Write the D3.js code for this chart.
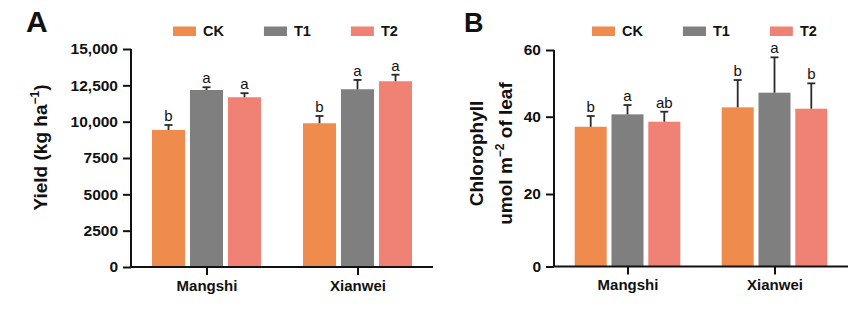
<!DOCTYPE html>
<html>
<head>
<meta charset="utf-8">
<script src="https://cdn.jsdelivr.net/npm/d3@7"></script>
<style>
  html, body { margin: 0; padding: 0; background: #fff; }
  svg { display: block; }
  text { font-family: "Liberation Sans", Arial, Helvetica, sans-serif; fill: #111; }
</style>
</head>
<body>
<svg id="chart" width="866" height="330"></svg>
<script>
// ---------- data ----------
const groups = ["Mangshi", "Xianwei"];
const series = ["CK", "T1", "T2"];
const colors = ["#EE8B4D", "#7F7F7F", "#EF8275"];

// Panel A: yield (kg ha-1), mean and SD per group x series
const yieldMean = [[9430, 12180, 11680], [9890, 12230, 12780]];
const yieldSD = [[340, 190, 280], [500, 640, 450]];
const yieldLetters = [["b", "a", "a"], ["b", "a", "a"]];
const yieldTicks = [0, 2500, 5000, 7500, 10000, 12500, 15000];
const yieldTickLabels = ["0", "2500", "5000", "7500", "10,000", "12,500", "15,000"];

// Panel B: chlorophyll (umol m-2 of leaf)
const chlMean = [[37.4, 40.7, 38.7], [42.8, 47.2, 42.4]];
const chlSD = [[2.8, 2.8, 2.8], [8.2, 10.6, 7.6]];
const chlLetters = [["b", "a", "ab"], ["b", "a", "b"]];
const chlTicks = [0, 20, 40, 60];
const chlTickLabels = ["0", "20", "40", "60"];

// ---------- drawing ----------
const svg = d3.select("#chart");

function panel(cfg) {
  const g = svg.append("g");
  const x0 = d3.scalePoint().domain(groups).range([cfg.x0, cfg.x1]).padding(0.5);
  const half = cfg.half;
  const y = cfg.y;

  // bars
  groups.forEach((grp, gi) => {
    const c = x0(grp);
    const x1 = d3.scaleBand().domain(series).range([c - half, c + half])
      .paddingInner(0.13).paddingOuter(0.065);
    series.forEach((s, si) => {
      const m = cfg.mean[gi][si], sd = cfg.sd[gi][si];
      const bx = x1(s), bw = x1.bandwidth(), cx = bx + bw / 2;
      g.append("rect")
        .attr("x", bx).attr("width", bw)
        .attr("y", y(m)).attr("height", y(0) - y(m))
        .attr("fill", colors[si]);
      // error bar (upper only)
      g.append("line")
        .attr("x1", cx).attr("x2", cx)
        .attr("y1", y(m)).attr("y2", y(m + sd))
        .attr("stroke", "#2a2a2a").attr("stroke-width", 1.8);
      g.append("line")
        .attr("x1", cx - 4).attr("x2", cx + 4)
        .attr("y1", y(m + sd)).attr("y2", y(m + sd))
        .attr("stroke", "#2a2a2a").attr("stroke-width", 1.8);
      g.append("text")
        .attr("x", cx).attr("y", y(m + sd) - 4)
        .attr("text-anchor", "middle")
        .attr("font-size", 15)
        .text(cfg.letters[gi][si]);
    });
  });

  // y axis
  const yAxis = d3.axisLeft(y).tickValues(cfg.ticks)
    .tickFormat((d, i) => cfg.tickLabels[i]).tickSize(8).tickPadding(5);
  const ya = g.append("g").attr("transform", `translate(${cfg.x0},0)`).call(yAxis);
  ya.select(".domain").attr("stroke", "#111").attr("stroke-width", 2)
    .attr("d", `M0,${y(0)}V${y(cfg.ticks[cfg.ticks.length - 1])}`);
  ya.selectAll(".tick line").attr("stroke", "#111").attr("stroke-width", 2);
  ya.selectAll(".tick text").attr("font-size", 15.5).attr("font-weight", "bold")
    .attr("fill", "#111").attr("font-family", '"Liberation Sans", Arial, sans-serif');

  // x axis
  const xAxis = d3.axisBottom(x0).tickSize(8).tickPadding(5);
  const xa = g.append("g").attr("transform", `translate(0,${y(0)})`).call(xAxis);
  xa.select(".domain").attr("stroke", "#111").attr("stroke-width", 2)
    .attr("d", `M${cfg.x0 - 1},0H${cfg.x1}`);
  xa.selectAll(".tick line").attr("stroke", "#111").attr("stroke-width", 2);
  xa.selectAll(".tick text").attr("font-size", 15).attr("font-weight", "bold")
    .attr("fill", "#111").attr("font-family", '"Liberation Sans", Arial, sans-serif');

  // legend (flow layout)
  let lx = cfg.legendX;
  series.forEach((s, si) => {
    g.append("rect").attr("x", lx).attr("y", 26.5).attr("width", 23).attr("height", 9.5)
      .attr("fill", colors[si]);
    const t = g.append("text").attr("x", lx + 30).attr("y", 36)
      .attr("font-size", 14.5).attr("font-weight", "bold").text(s);
    lx += 30 + t.node().getComputedTextLength() + 40;
  });

  // panel letter
  g.append("text").attr("x", cfg.letterX).attr("y", 32)
    .attr("font-size", cfg.letterSize).attr("font-weight", "bold").text(cfg.letter);
  return g;
}

// Panel A
const yA = d3.scaleLinear().domain([0, 15000]).range([267, 49]);
const gA = panel({
  x0: 131, x1: 433, half: 57, y: yA,
  mean: yieldMean, sd: yieldSD, letters: yieldLetters,
  ticks: yieldTicks, tickLabels: yieldTickLabels,
  legendX: 173, letter: "A", letterX: 26, letterSize: 30
});
const tA = gA.append("text")
  .attr("transform", "translate(47,147.5) rotate(-90)")
  .attr("text-anchor", "middle").attr("font-size", 19).attr("font-weight", "bold");
tA.append("tspan").text("Yield (kg ha");
tA.append("tspan").attr("font-size", 12).attr("dy", -8).text("\u22121");
tA.append("tspan").attr("dy", 8).text(")");

// Panel B
const yB = d3.scaleLinear().domain(chlTicks).range([266.5, 194, 116.7, 50]);
const gB = panel({
  x0: 554, x1: 848, half: 55.2, y: yB,
  mean: chlMean, sd: chlSD, letters: chlLetters,
  ticks: chlTicks, tickLabels: chlTickLabels,
  legendX: 592, letter: "B", letterX: 464, letterSize: 27
});
gB.append("text")
  .attr("transform", "translate(483,153.5) rotate(-90)")
  .attr("text-anchor", "middle").attr("font-size", 19).attr("font-weight", "bold")
  .text("Chlorophyll");
const tB = gB.append("text")
  .attr("transform", "translate(512,153.5) rotate(-90)")
  .attr("text-anchor", "middle").attr("font-size", 19).attr("font-weight", "bold");
tB.append("tspan").text("umol m");
tB.append("tspan").attr("font-size", 12).attr("dy", -8).text("\u22122");
tB.append("tspan").attr("dy", 8).text(" of leaf");
</script>
</body>
</html>
